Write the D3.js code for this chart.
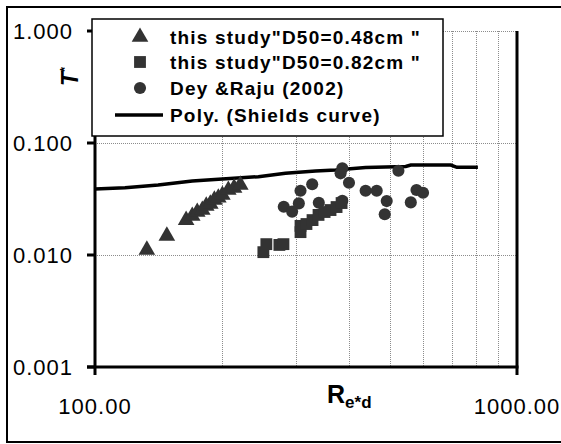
<!DOCTYPE html>
<meta charset="utf-8">
<style>
  html, body { margin: 0; padding: 0; background: #fff; overflow: hidden; }
  text { font-family: "Liberation Sans", Arial, sans-serif; fill: #000; }
  .tick-label { font-size: 22px; letter-spacing: 1px; }
  .legend text { font-size: 19px; font-weight: bold; letter-spacing: 1.2px; }
  .grid line { stroke: #8c8c8c; stroke-width: 1px; stroke-dasharray: 1,1; shape-rendering: crispEdges; }
  .axis-line { stroke: #000; stroke-width: 3px; fill: none; }
  .shields { fill: none; stroke: #000; stroke-width: 3.5px; }
  .mark { fill: #333; }
</style>
<body>
<svg></svg>
<script src="https://d3js.org/d3.v7.min.js"></script>
<script>

// this study, D50 = 0.48cm (triangles)
var triRe  = [132.7, 148.0, 164.4, 170.0, 174.7, 179.6, 183.5, 187.6, 191.8, 196.0, 200.4, 207.0, 213.6, 221.0];
var triTau = [0.0111, 0.0148, 0.0205, 0.0223, 0.0242, 0.0252, 0.0274, 0.0286, 0.0310, 0.0324, 0.0343, 0.0380, 0.0397, 0.0422];

// this study, D50 = 0.82cm (squares)
var sqRe  = [250.6, 254.7, 273.5, 279.6, 306.9, 306.9, 317.0, 327.7, 338.6, 350.0, 361.5, 373.6, 384.0];
var sqTau = [0.0106, 0.0125, 0.0123, 0.0125, 0.0160, 0.0182, 0.0189, 0.0205, 0.0228, 0.0242, 0.0252, 0.0268, 0.0291];

// Dey & Raju (2002) (circles)
var dotRe  = [280.1, 293.2, 304.1, 306.9, 327.1, 339.1, 385.5, 381.9, 399.8, 385.5, 437.8, 465.1, 491.2, 485.9, 523.6, 560.2, 577.9, 598.9];
var dotTau = [0.0270, 0.0244, 0.0289, 0.0375, 0.0428, 0.0293, 0.0594, 0.0536, 0.0442, 0.0305, 0.0375, 0.0375, 0.0303, 0.0231, 0.0566, 0.0295, 0.0380, 0.0360];

// Poly. (Shields curve)
var shieldsRe  = [100, 117.8, 141.1, 170.0, 200.3, 243.9, 282.7, 333.1, 371.5, 437.8, 544.9, 560.2, 697.0, 720.3, 807.9];
var shieldsTau = [0.0388, 0.0399, 0.0422, 0.0458, 0.0477, 0.0500, 0.0536, 0.0562, 0.0574, 0.0604, 0.0617, 0.0636, 0.0636, 0.0607, 0.0607];

var xTicks = [100, 1000];
var xTickLabels = ["100.00", "1000.00"];
var yTicks = [1, 0.1, 0.01, 0.001];
var yTickLabels = ["1.000", "0.100", "0.010", "0.001"];
var xGrid = [200, 300, 400, 500, 600, 700, 800, 900];
var yGrid = [1, 0.1, 0.01];

var legendLabels = ['this study"D50=0.48cm "', 'this study"D50=0.82cm "', 'Dey &Raju (2002)', 'Poly. (Shields curve)'];

var W = 561, H = 444;
var plotLeft = 95, plotTop = 31, plotRight = 517, plotBottom = 367;

var svg = d3.select("svg").attr("width", W).attr("height", H);

// outer chart border
svg.append("rect")
  .attr("x", 7).attr("y", 7)
  .attr("width", 560).attr("height", 435)
  .attr("fill", "#fff").attr("stroke", "#000").attr("stroke-width", 2);

var x = d3.scaleLog().domain([100, 1000]).range([plotLeft, plotRight]);
var y = d3.scaleLog().domain([0.001, 1]).range([plotBottom, plotTop]);

// gridlines
var grid = svg.append("g").attr("class", "grid");
grid.selectAll(".vg").data(xGrid).enter().append("line")
  .attr("x1", function(d) { return Math.round(x(d)) + 0.5; })
  .attr("x2", function(d) { return Math.round(x(d)) + 0.5; })
  .attr("y1", plotTop).attr("y2", plotBottom);
grid.selectAll(".hg").data(yGrid).enter().append("line")
  .attr("x1", plotLeft).attr("x2", plotRight)
  .attr("y1", function(d) { return Math.round(y(d)) + 0.5; })
  .attr("y2", function(d) { return Math.round(y(d)) + 0.5; });

// axes
svg.append("line").attr("class", "axis-line")
  .attr("x1", plotLeft).attr("x2", plotLeft).attr("y1", plotTop).attr("y2", plotBottom + 8);
svg.append("line").attr("class", "axis-line")
  .attr("x1", plotLeft - 8).attr("x2", plotRight + 1.5).attr("y1", plotBottom).attr("y2", plotBottom);
svg.append("line").attr("class", "axis-line")
  .attr("x1", plotRight).attr("x2", plotRight).attr("y1", plotTop).attr("y2", plotBottom + 8);

svg.selectAll(".ytick").data(yTicks).enter().append("line")
  .attr("class", "axis-line")
  .attr("x1", plotLeft - 8).attr("x2", plotLeft)
  .attr("y1", function(d) { return y(d); })
  .attr("y2", function(d) { return y(d); });

svg.selectAll(".ylab").data(yTicks).enter().append("text")
  .attr("class", "tick-label")
  .attr("x", 73)
  .attr("y", function(d) { return y(d) + 8; })
  .attr("text-anchor", "end")
  .text(function(d, i) { return yTickLabels[i]; });

svg.selectAll(".xlab").data(xTicks).enter().append("text")
  .attr("class", "tick-label")
  .attr("x", function(d) { return x(d); })
  .attr("y", 414)
  .attr("text-anchor", "middle")
  .text(function(d, i) { return xTickLabels[i]; });

// axis titles
var xt = svg.append("text")
  .attr("x", 327).attr("y", 403)
  .style("font-weight", "bold").style("font-size", "25px");
xt.append("tspan").text("R");
xt.append("tspan").attr("dy", 5).style("font-size", "17px").text("e*d");

var yt = svg.append("text")
  .attr("transform", "translate(78,86) rotate(-90)")
  .style("font-weight", "bold").style("font-style", "italic").style("font-size", "23px");
yt.append("tspan").text("T");
yt.append("tspan").attr("dy", -9).style("font-size", "13px").style("font-style", "normal").text("*");

// Shields curve
var line = d3.line()
  .x(function(d, i) { return x(shieldsRe[i]); })
  .y(function(d, i) { return y(shieldsTau[i]); });
svg.append("path").attr("class", "shields")
  .datum(shieldsRe)
  .attr("d", line);

// markers
var tri = d3.symbol().type(d3.symbolTriangle).size(120);
var sq = d3.symbol().type(d3.symbolSquare).size(140);
var dot = d3.symbol().type(d3.symbolCircle).size(115);

svg.append("g").selectAll("path").data(dotRe).enter().append("path")
  .attr("class", "mark").attr("d", dot)
  .attr("transform", function(d, i) { return "translate(" + x(d) + "," + y(dotTau[i]) + ")"; });
svg.append("g").selectAll("path").data(sqRe).enter().append("path")
  .attr("class", "mark").attr("d", sq)
  .attr("transform", function(d, i) { return "translate(" + x(d) + "," + y(sqTau[i]) + ")"; });
svg.append("g").selectAll("path").data(triRe).enter().append("path")
  .attr("class", "mark").attr("d", tri)
  .attr("transform", function(d, i) { return "translate(" + x(d) + "," + y(triTau[i]) + ")"; });

// legend
var lg = svg.append("g").attr("class", "legend");
lg.append("rect")
  .attr("x", 92).attr("y", 19).attr("width", 351).attr("height", 117)
  .attr("fill", "#fff").attr("stroke", "#000").attr("stroke-width", 1.5);

var rowY = [37, 62, 88, 115];
var legendSyms = [tri, sq, dot];
legendSyms.forEach(function(s, i) {
  lg.append("path").attr("class", "mark").attr("d", s)
    .attr("transform", "translate(140," + rowY[i] + ")");
});
lg.append("line")
  .attr("x1", 115).attr("x2", 163).attr("y1", rowY[3]).attr("y2", rowY[3])
  .attr("stroke", "#000").attr("stroke-width", 3.5);

lg.selectAll("text").data(legendLabels).enter().append("text")
  .attr("x", 170)
  .attr("y", function(d, i) { return rowY[i] + 7; })
  .text(function(d) { return d; });

</script>
</body>
</html>
